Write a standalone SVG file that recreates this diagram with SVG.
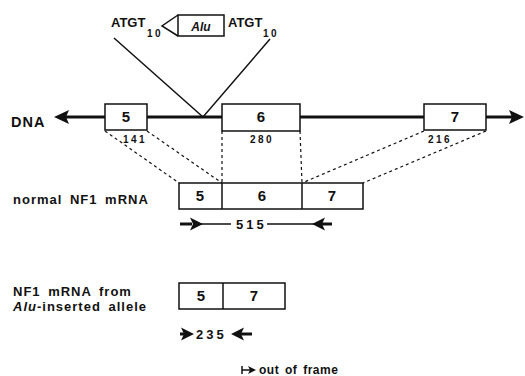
<svg xmlns="http://www.w3.org/2000/svg" width="525" height="376" viewBox="0 0 525 376">
<defs>
<style>
text{font-family:"Liberation Sans",Arial,sans-serif;fill:#111;}
.lbl{font-size:13px;font-weight:bold;letter-spacing:1px;word-spacing:3px;}
.num{font-size:15px;font-weight:bold;text-anchor:middle;}
.small{font-size:10px;font-weight:bold;letter-spacing:2.5px;}
.len{font-size:13px;font-weight:bold;letter-spacing:3px;}
.box{fill:#fff;stroke:#111;stroke-width:1.5;}
.line{stroke:#111;stroke-width:1.5;fill:none;}
.thick{stroke:#111;stroke-width:3;fill:none;}
.dash{stroke:#111;stroke-width:1.2;stroke-dasharray:3 3;fill:none;}
.head{fill:#111;stroke:none;}
</style>
<path id="hr" d="M0,0 L-13,-6.5 L-10,0 L-13,6.5 Z"/>
<path id="hl" d="M0,0 L13,-6.5 L10,0 L13,6.5 Z"/>
<path id="bhr" d="M0,0 L-15,-7 L-12,0 L-15,7 Z"/>
<path id="bhl" d="M0,0 L15,-7 L12,0 L15,7 Z"/>
</defs>

<g id="connectors">
<line class="thick" x1="66" y1="117" x2="105" y2="117"/>
<use href="#bhl" x="54" y="117" class="head"/>
<line class="thick" x1="147" y1="117" x2="222" y2="117"/>
<line class="thick" x1="300" y1="117" x2="424" y2="117"/>
<line class="thick" x1="486" y1="117" x2="513" y2="117"/>
<use href="#bhr" x="524" y="117" class="head"/>
<polyline class="line" points="114,38 203,117 270,39"/>
<line class="dash" x1="105" y1="131" x2="179" y2="183"/>
<line class="dash" x1="147" y1="131" x2="222" y2="183"/>
<line class="dash" x1="222" y1="131" x2="222" y2="183"/>
<line class="dash" x1="300" y1="131" x2="302" y2="183"/>
<line class="dash" x1="424" y1="131" x2="302" y2="183"/>
<line class="dash" x1="486" y1="131" x2="363" y2="183"/>
</g>

<g id="insert">
<text x="111" y="27" style="font-size:13px;font-weight:bold;">ATGT</text>
<text x="147" y="37" class="small">10</text>
<polyline class="line" points="178,15 162,26 178,36"/>
<rect x="178" y="15" width="46" height="21" class="box"/>
<text x="201" y="31" style="font-size:12px;font-style:italic;font-weight:bold;text-anchor:middle;">Alu</text>
<text x="228" y="27" style="font-size:13px;font-weight:bold;">ATGT</text>
<text x="263" y="37" class="small">10</text>
</g>

<g id="dna">
<text x="11" y="127" style="font-size:14.5px;font-weight:bold;letter-spacing:1px;">DNA</text>
</g>

<g id="exon5">
<rect x="105" y="104" width="42" height="26" class="box"/>
<text x="126" y="122" class="num">5</text>
<text x="123" y="143" class="small">141</text>
</g>
<g id="exon6">
<rect x="222" y="104" width="78" height="27" class="box"/>
<text x="261" y="122" class="num">6</text>
<text x="250" y="143" class="small">280</text>
</g>
<g id="exon7">
<rect x="424" y="104" width="62" height="26" class="box"/>
<text x="455" y="122" class="num">7</text>
<text x="428" y="143" class="small">216</text>
</g>

<g id="normal-mrna">
<text x="13" y="204" class="lbl">normal NF1 mRNA</text>
<rect x="179" y="183" width="184" height="26" class="box"/>
<line class="line" x1="222" y1="183" x2="222" y2="209"/>
<line class="line" x1="302" y1="183" x2="302" y2="209"/>
<text x="200" y="201" class="num">5</text>
<text x="262" y="201" class="num">6</text>
<text x="332" y="201" class="num">7</text>
</g>

<g id="len515">
<line class="thick" x1="180" y1="224" x2="192" y2="224"/>
<use href="#hr" x="203" y="224" class="head"/>
<line class="line" x1="200" y1="224" x2="231" y2="224"/>
<text x="236" y="228.5" class="len">515</text>
<line class="line" x1="267" y1="224" x2="314" y2="224"/>
<use href="#hl" x="312" y="224" class="head"/>
<line class="thick" x1="322" y1="224" x2="332" y2="224"/>
</g>

<g id="alu-mrna">
<text x="13" y="296" class="lbl">NF1 mRNA from</text>
<text x="13" y="311" class="lbl"><tspan style="font-style:italic;">Alu</tspan>-inserted allele</text>
<rect x="179" y="283" width="106" height="26" class="box"/>
<line class="line" x1="223" y1="283" x2="223" y2="309"/>
<text x="201" y="301" class="num">5</text>
<text x="254" y="301" class="num">7</text>
</g>

<g id="len235">
<line class="thick" x1="180" y1="334" x2="186" y2="334"/>
<use href="#hr" x="194" y="334" class="head"/>
<text x="196" y="338.5" class="len">235</text>
<use href="#hl" x="231" y="334" class="head"/>
<line class="thick" x1="240" y1="334" x2="252" y2="334"/>
</g>

<g id="legend">
<line class="line" x1="242" y1="366" x2="242" y2="374"/>
<line class="line" x1="242" y1="370" x2="250" y2="370"/>
<path d="M256,370 L248,366 L250,370 L248,374 Z" class="head"/>
<text x="259" y="374" style="font-size:12px;font-weight:bold;letter-spacing:0.5px;word-spacing:2px;">out of frame</text>
</g>
</svg>
